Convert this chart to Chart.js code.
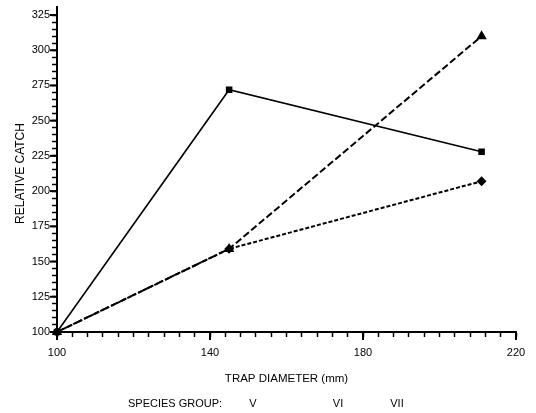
<!DOCTYPE html>
<html>
<head>
<meta charset="utf-8">
<script src="https://cdn.jsdelivr.net/npm/chart.js@4"></script>
<style>
  html, body { margin: 0; padding: 0; background: #fff; }
  #wrap { width: 536px; height: 413px; }
</style>
</head>
<body>
<div id="wrap"><canvas id="relCatch" width="536" height="413"></canvas></div>
<script>
// trap diameter (mm) on x, relative catch on y
var trapDiameter = [100, 145, 211];
var groupV   = [100, 272, 228];   // solid, squares
var groupVI  = [100, 159, 310];   // long dash, triangles
var groupVII = [100, 159, 207];   // short dash, diamonds
var groupNames = ['V', 'VI', 'VII'];
var legendTitle = 'SPECIES GROUP:';
var xMajorStep = 40, yMajorStep = 25;

var FONT = "'Liberation Sans', Arial, Helvetica, sans-serif";

function pts(ys) {
    return trapDiameter.map(function (x, i) { return {x: x, y: ys[i]}; });
}

// longer ticks for labelled values + the legend line at the bottom
var extras = {
    id: 'extras',
    afterDraw: function (chart) {
        var ctx = chart.ctx, xs = chart.scales.x, ys = chart.scales.y;
        ctx.save();
        ctx.strokeStyle = '#000';
        ctx.lineWidth = 2;
        xs.ticks.forEach(function (t) {
            if ((t.value - xs.min) % xMajorStep !== 0) return;
            var px = xs.getPixelForValue(t.value);
            ctx.beginPath(); ctx.moveTo(px, xs.top); ctx.lineTo(px, xs.top + 8); ctx.stroke();
        });
        ys.ticks.forEach(function (t) {
            if ((t.value - ys.min) % yMajorStep !== 0) return;
            var py = ys.getPixelForValue(t.value);
            ctx.beginPath(); ctx.moveTo(ys.right, py); ctx.lineTo(ys.right - 7, py); ctx.stroke();
        });
        // axis runs a little past the top tick
        ctx.beginPath(); ctx.moveTo(ys.right, ys.top); ctx.lineTo(ys.right, ys.top - 9); ctx.stroke();

        ctx.fillStyle = '#000';
        ctx.font = '11px ' + FONT;
        ctx.textBaseline = 'middle';
        var y = chart.height - 9;
        ctx.textAlign = 'left';
        ctx.fillText(legendTitle, 128, y);
        ctx.textAlign = 'center';
        var cx = [253, 338, 397];
        groupNames.forEach(function (n, i) { ctx.fillText(n, cx[i], y); });
        ctx.restore();
    }
};

var ctx = document.getElementById('relCatch');
var chart = new Chart(ctx, {
    type: 'line',
    data: {
        datasets: [{
            label: groupNames[0],
            data: pts(groupV),
            borderColor: '#000',
            backgroundColor: '#000',
            borderWidth: 1.6,
            pointStyle: 'rect',
            pointRadius: 3.5,
            clip: false,
            tension: 0
        }, {
            label: groupNames[1],
            data: pts(groupVI),
            borderColor: '#000',
            backgroundColor: '#000',
            borderWidth: 2,
            borderDash: [7, 3],
            pointStyle: 'triangle',
            pointRadius: 4,
            clip: false,
            tension: 0
        }, {
            label: groupNames[2],
            data: pts(groupVII),
            borderColor: '#000',
            backgroundColor: '#000',
            borderWidth: 2,
            borderDash: [4, 2],
            pointStyle: 'rectRot',
            pointRadius: 3.5,
            clip: false,
            tension: 0
        }]
    },
    options: {
        responsive: false,
        animation: false,
        layout: { padding: { left: 0, right: 20, top: 15, bottom: 25 } },
        plugins: { legend: { display: false }, tooltip: { enabled: false } },
        scales: {
            x: {
                type: 'linear',
                min: 100, max: 220,
                border: { display: true, color: '#000', width: 2 },
                grid: { drawOnChartArea: false, drawTicks: true, tickLength: 5, tickColor: '#000', tickWidth: 1.5 },
                ticks: {
                    stepSize: 4, autoSkip: false, maxRotation: 0, padding: 9,
                    color: '#000', font: { family: FONT, size: 11 },
                    callback: function (v) { return (v - 100) % xMajorStep === 0 ? v : ''; }
                },
                title: { display: true, text: 'TRAP DIAMETER (mm)', color: '#000',
                         font: { family: FONT, size: 11.5 }, padding: { top: 0, bottom: 2 } },
                afterFit: function (s) { s.height = 56; }
            },
            y: {
                min: 100, max: 325,
                border: { display: true, color: '#000', width: 2 },
                grid: { drawOnChartArea: false, drawTicks: true, tickLength: 5, tickColor: '#000', tickWidth: 1.5 },
                ticks: {
                    stepSize: 5, autoSkip: false, padding: 2,
                    color: '#000', font: { family: FONT, size: 11 },
                    callback: function (v) { return (v - 100) % yMajorStep === 0 ? v : ''; }
                },
                title: { display: true, text: 'RELATIVE CATCH', color: '#000',
                         font: { family: FONT, size: 12 }, padding: { top: 13, bottom: 0 } },
                afterFit: function (s) { s.width = 57; }
            }
        }
    },
    plugins: [extras]
});
</script>
</body>
</html>
